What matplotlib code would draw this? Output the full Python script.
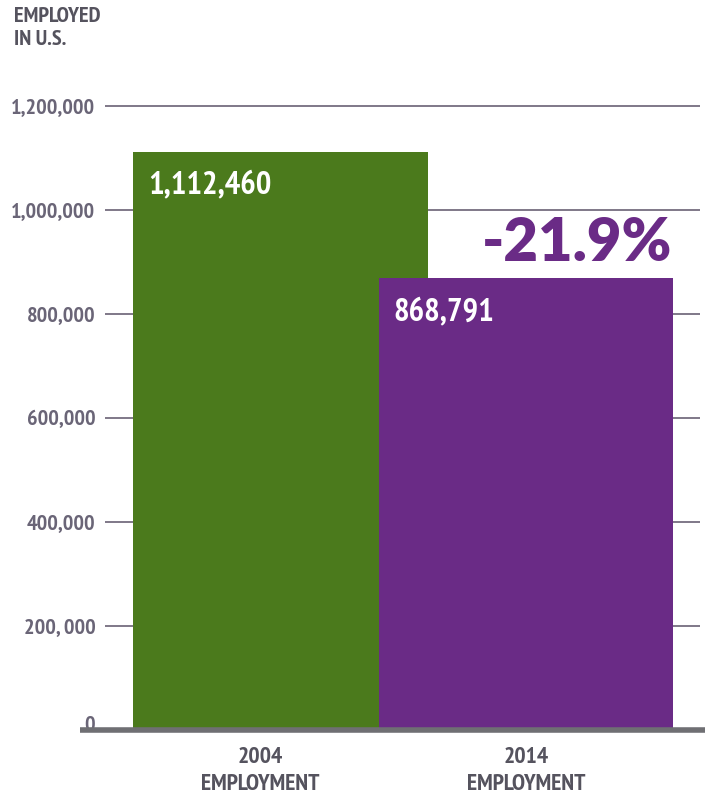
import matplotlib.pyplot as plt
import matplotlib.transforms as mtransforms
from matplotlib.ticker import FixedLocator

# Employment in U.S., 2004 vs 2014
categories = ["2004\nEMPLOYMENT", "2014\nEMPLOYMENT"]
employed = [1112460, 868791]
value_labels = ["1,112,460", "868,791"]
change_label = "-21.9%"
y_ticks = [0, 200000, 400000, 600000, 800000, 1000000, 1200000]
y_tick_labels = ["0", "200, 000", "400,000", "600,000", "800,000", "1,000,000", "1,200,000"]

GREEN = "#4b7a1c"
PURPLE = "#6a2b86"
TEXT_GREY = "#55535e"
TICK_GREY = "#6a6577"
GRID = "#5c5468"

narrow = dict(fontfamily=["PT Sans Narrow", "DejaVu Sans"], fontweight="bold",
              fontstretch="condensed")

W, H = 710, 801
fig = plt.figure(figsize=(W / 100, H / 100), dpi=100)
# axes placed in pixel terms: x from 105 to 700, y=0 at 730, 1.25M at 80
ax = fig.add_axes([105 / W, (H - 730) / H, 595 / W, 650 / H])

x = range(len(employed))
colors = [GREEN, PURPLE]
for i in x:
    ax.bar(i, employed[i], width=1.2, color=colors[i], zorder=2 + i)

ax.set_xlim(-0.715, 1.709)
ax.set_ylim(0, 1250000)

# grid lines
ax.yaxis.set_major_locator(FixedLocator(y_ticks))
ax.set_yticklabels(y_tick_labels, fontsize=16, color=TICK_GREY, **narrow)
ax.tick_params(axis="y", length=0, pad=7)
for t in y_ticks[1:]:
    ax.axhline(t, color=GRID, lw=1.1, zorder=1)
# lift the "0" so it sits above the baseline
zero_lbl = ax.get_yticklabels()[0]
zero_lbl.set_transform(zero_lbl.get_transform()
                       + mtransforms.ScaledTranslation(0, 5 / 72, fig.dpi_scale_trans))

# baseline extends a bit past the grid
ax.plot([-0.042, 1.0084], [0, 0],
        transform=mtransforms.blended_transform_factory(ax.transAxes, ax.transData),
        color="#6f6f73", lw=4, zorder=6, clip_on=False, solid_capstyle="butt")

ax.set_xticks(list(x))
ax.set_xticklabels(categories, fontsize=17, color=TEXT_GREY, linespacing=1.4, **narrow)
ax.tick_params(axis="x", length=0, pad=12)
# first category label sits a little left of its bar centre
first_lbl = ax.get_xticklabels()[0]
first_lbl.set_transform(first_lbl.get_transform()
                        + mtransforms.ScaledTranslation(-20 / 100, 0, fig.dpi_scale_trans))

for s in ax.spines.values():
    s.set_visible(False)

# value labels inside bars
for i in x:
    ax.text(i - 0.54, employed[i] - 65000, value_labels[i], color="white",
            fontsize=23.5, ha="left", va="center", zorder=10, **narrow)

# percent change
ax.text(1.21, 935000, change_label, color=PURPLE,
        fontfamily=["Lato", "DejaVu Sans"],
        fontweight="heavy", fontsize=43, ha="center", va="center", zorder=10)

# y-axis title
fig.text(14 / W, 1 - 7 / H, "EMPLOYED\nIN U.S.", fontsize=16, color=TEXT_GREY,
         ha="left", va="top", linespacing=1.25, **narrow)

fig.savefig("out.png", dpi=100)
